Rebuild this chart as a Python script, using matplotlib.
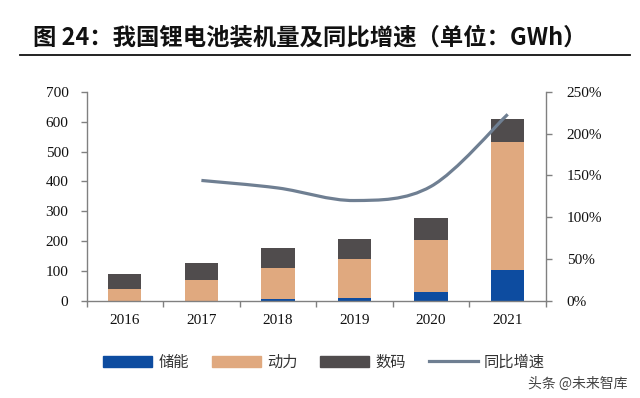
import numpy as np
import matplotlib
matplotlib.use("Agg")
import matplotlib.pyplot as plt
from matplotlib.path import Path
from matplotlib.patches import PathPatch, Patch
from matplotlib.lines import Line2D

plt.rcParams['font.family'] = ['Noto Sans CJK SC', 'DejaVu Sans']

years = ['2016', '2017', '2018', '2019', '2020', '2021']
storage = [0, 1, 7, 9, 29, 105]        # 储能
power = [39, 68, 105, 133, 175, 428]   # 动力
digital = [52, 58, 65, 67, 72, 76]     # 数码
yoy_years = ['2017', '2018', '2019', '2020', '2021']
yoy = [144, 135, 120, 137, 223]        # 同比增速 (%)

left_ticks = [0, 100, 200, 300, 400, 500, 600, 700]
right_ticks = [0, 50, 100, 150, 200, 250]

c_storage = '#0D4CA0'
c_power = '#E0A97F'
c_digital = '#504C4D'
c_line = '#6F7F92'
c_spine = '#808080'

fig = plt.figure(figsize=(6.4, 3.98), dpi=100)
ax = fig.add_axes([0.1352, 0.2437, 0.7179, 0.5259])
ax2 = ax.twinx()

x = np.arange(len(years))
w = 0.435
s = np.array(storage)
p = np.array(power)
d = np.array(digital)
ax.bar(x, s, w, color=c_storage, zorder=2)
ax.bar(x, p, w, bottom=s, color=c_power, zorder=2)
ax.bar(x, d, w, bottom=s + p, color=c_digital, zorder=2)

# smoothed yoy line (bezier through the points, like excel's smooth line)
xi = np.array([years.index(y) for y in yoy_years], dtype=float)
yi = np.array(yoy, dtype=float)
pts = np.column_stack([xi, yi])
ext = np.vstack([pts[0], pts, pts[-1]])
verts = [tuple(pts[0])]
codes = [Path.MOVETO]
for i in range(len(pts) - 1):
    p0, p1, p2, p3 = ext[i], ext[i + 1], ext[i + 2], ext[i + 3]
    c1 = p1 + (p2 - p0) / 6
    c2 = p2 - (p3 - p1) / 6
    verts += [tuple(c1), tuple(c2), tuple(p2)]
    codes += [Path.CURVE4] * 3
ax2.add_patch(PathPatch(Path(verts, codes), fill=False, edgecolor=c_line,
                        lw=2.3, capstyle='butt', zorder=3))

ax.set_xlim(-0.5, len(years) - 0.5)
ax.set_ylim(0, 700)
ax2.set_ylim(0, 250)

ax.set_yticks(left_ticks)
ax.set_yticklabels([str(v) for v in left_ticks])
ax2.set_yticks(right_ticks)
ax2.set_yticklabels([f'{v}%' for v in right_ticks])
ax.set_xticks(x)
ax.set_xticklabels(years)
ax.set_xticks(np.arange(-0.5, len(years)), minor=True)

serif = 'Liberation Serif'
for lab in ax.get_xticklabels() + ax.get_yticklabels() + ax2.get_yticklabels():
    lab.set_fontfamily(serif)
    lab.set_fontsize(11)
    lab.set_color('#111111')

ax.tick_params(axis='x', which='major', length=0, pad=9)
ax.tick_params(axis='x', which='minor', length=4, width=1, color=c_spine, direction='out')
ax.tick_params(axis='y', length=4, width=1, color=c_spine, pad=9)
ax2.tick_params(axis='y', length=4, width=1, color=c_spine, pad=11)

for a in (ax, ax2):
    a.spines['top'].set_visible(False)
    for k in ('left', 'right', 'bottom'):
        a.spines[k].set_color(c_spine)
        a.spines[k].set_linewidth(1)
ax.spines['right'].set_visible(False)
ax2.spines['left'].set_visible(False)
ax2.spines['bottom'].set_visible(False)

# title and rule
fig.text(33 / 640, 1 - 37.5 / 398, '图 24：我国锂电池装机量及同比增速（单位：GWh）',
         ha='left', va='center', fontsize=16.8, fontweight='bold', color='#111111')
fig.add_artist(Line2D([20 / 640, 630 / 640], [1 - 55 / 398, 1 - 55 / 398],
                      color='#111111', lw=1.3))

handles = [Patch(color=c_storage), Patch(color=c_power), Patch(color=c_digital),
           Line2D([], [], color=c_line, lw=2.3)]
fig.legend(handles, ['储能', '动力', '数码', '同比增速'], loc='center',
           bbox_to_anchor=(324 / 640, 1 - 362 / 398), ncol=4, frameon=False,
           fontsize=11, handlelength=3.2, handletextpad=0.4, columnspacing=1.5,
           labelcolor='#333333')

fig.text(628 / 640, 1 - 383.5 / 398, '头条 @未来智库', ha='right', va='center',
         fontsize=10, color='#444444')

fig.savefig('out.png', dpi=100)
